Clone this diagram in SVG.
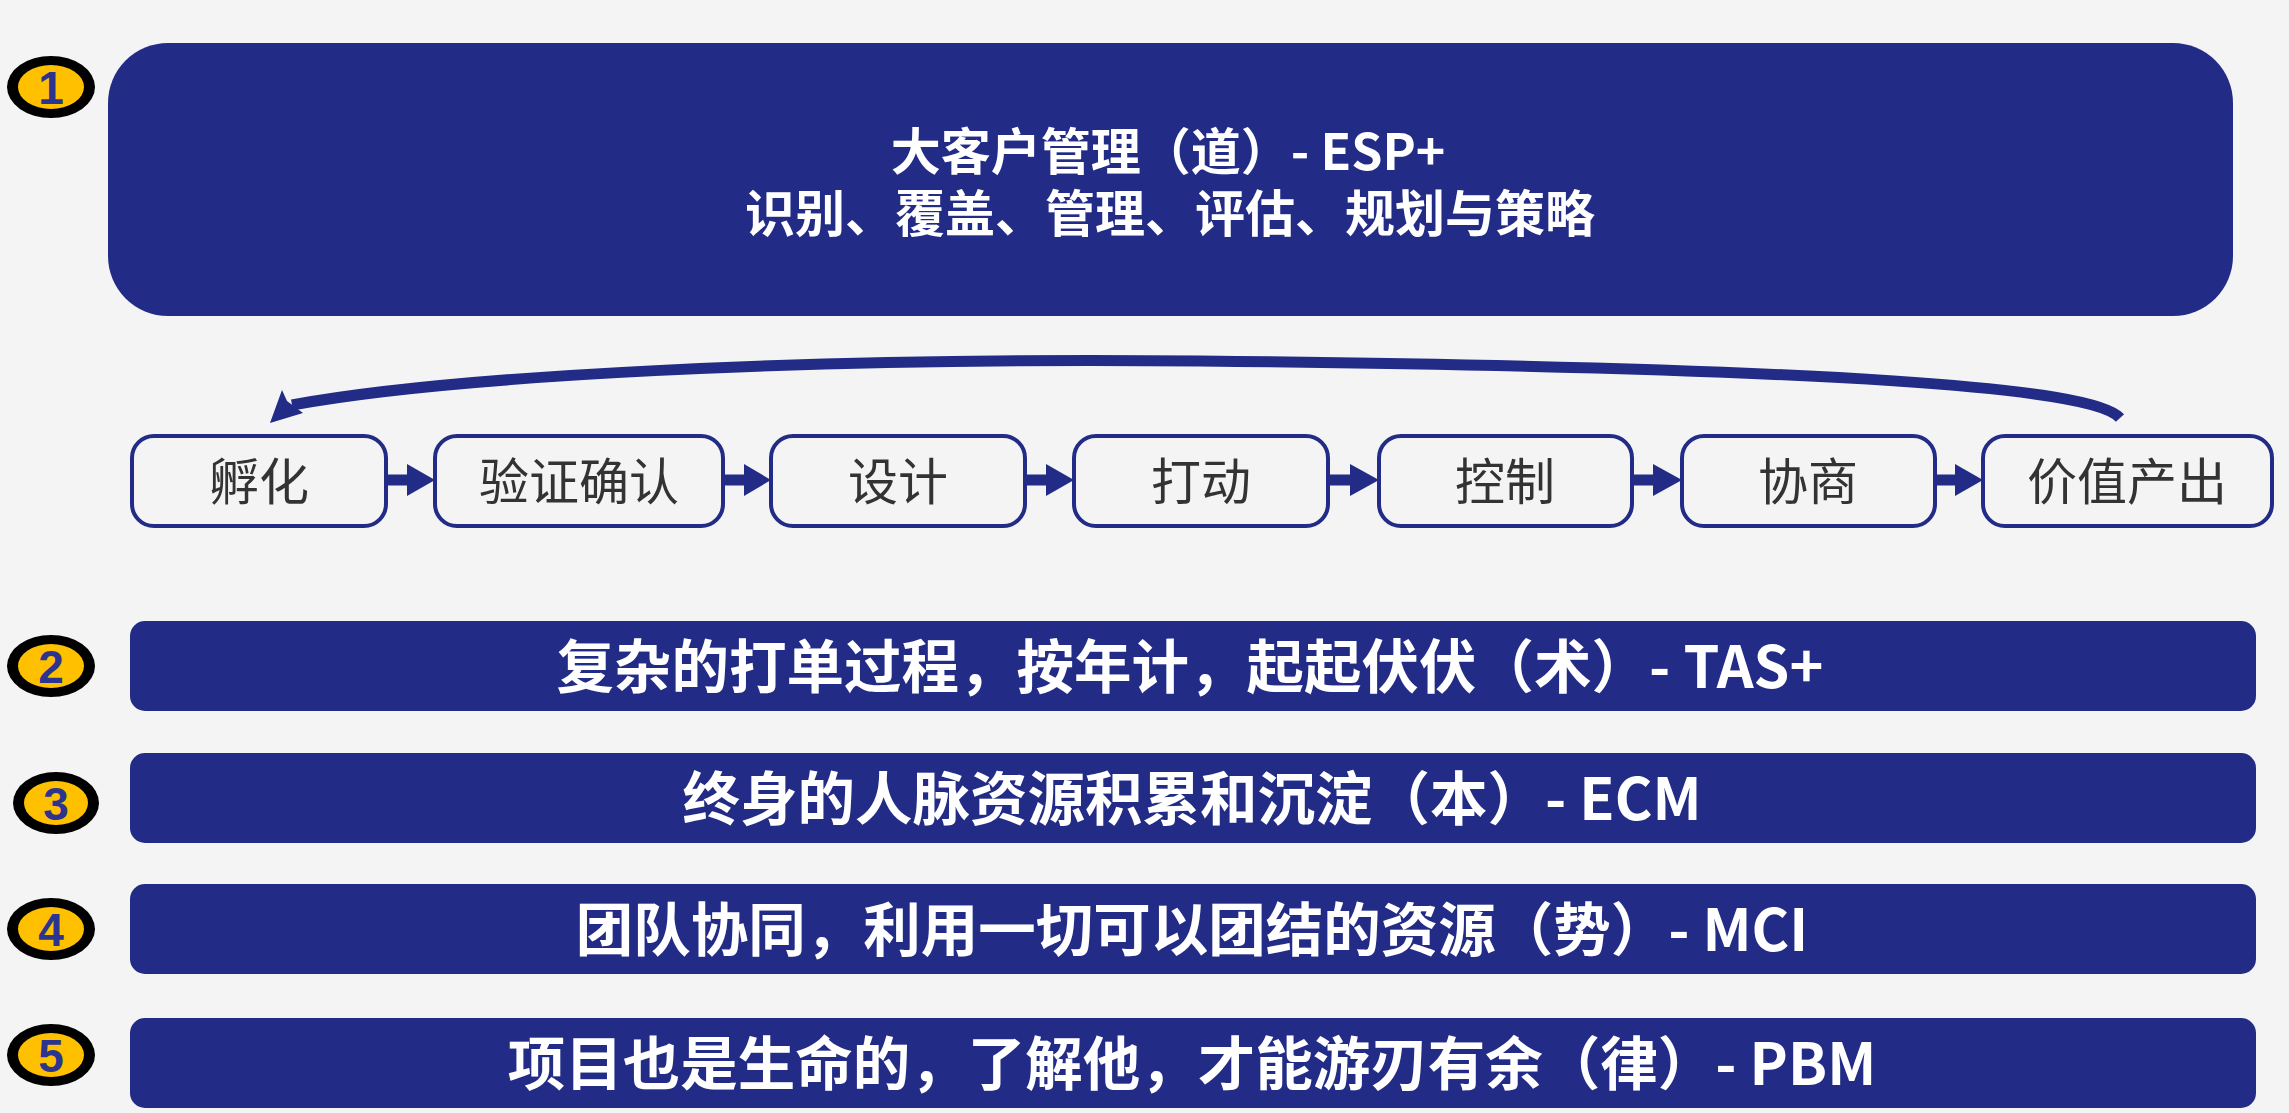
<svg xmlns="http://www.w3.org/2000/svg" width="2289" height="1113" viewBox="0 0 2289 1113">
  <defs>
    <style>
      .bg { fill: #F4F4F4; }
      .panel { fill: #222C86; }
      .step { fill: none; stroke: #222C86; stroke-width: 4; }
      .steptext { font-family: "Noto Sans CJK SC", "Noto Sans", sans-serif; font-size: 50px; fill: #333333; text-anchor: middle; }
      .bold { font-family: "Noto Sans CJK SC", "Noto Sans", sans-serif; font-weight: 700; fill: #FFFFFF; text-anchor: middle; }
      .badge-outer { fill: #000000; }
      .badge-inner { fill: #FFC000; }
      .badge-num { font-family: "Liberation Sans", Arial, sans-serif; font-weight: 700; font-size: 46px; fill: #2B3590; text-anchor: middle; }
      .conn { fill: #222C86; }
      .curve { fill: none; stroke: #222C86; stroke-width: 11; }
    </style>
  </defs>
  <rect class="bg" x="0" y="0" width="2289" height="1113"/>

  <!-- Badges -->
  <g id="badge1">
    <ellipse class="badge-outer" cx="51" cy="87" rx="44" ry="31"/>
    <ellipse class="badge-inner" cx="51" cy="87" rx="33" ry="22"/>
    <text class="badge-num" x="51" y="104">1</text>
  </g>
  <g id="badge2">
    <ellipse class="badge-outer" cx="51" cy="666" rx="44" ry="31"/>
    <ellipse class="badge-inner" cx="51" cy="666" rx="33" ry="22"/>
    <text class="badge-num" x="51" y="683">2</text>
  </g>
  <g id="badge3">
    <ellipse class="badge-outer" cx="56" cy="803" rx="43" ry="31"/>
    <ellipse class="badge-inner" cx="56" cy="803" rx="32" ry="22"/>
    <text class="badge-num" x="56" y="820">3</text>
  </g>
  <g id="badge4">
    <ellipse class="badge-outer" cx="51" cy="929" rx="44" ry="31"/>
    <ellipse class="badge-inner" cx="51" cy="929" rx="33" ry="22"/>
    <text class="badge-num" x="51" y="946">4</text>
  </g>
  <g id="badge5">
    <ellipse class="badge-outer" cx="51" cy="1055" rx="44" ry="31"/>
    <ellipse class="badge-inner" cx="51" cy="1055" rx="33" ry="22"/>
    <text class="badge-num" x="51" y="1072">5</text>
  </g>

  <!-- Top panel -->
  <g id="panel-esp">
    <rect class="panel" x="108" y="43" width="2125" height="273" rx="60" ry="60"/>
    <text class="bold" font-size="50"><tspan x="1168" y="170">大客户管理（道）- ESP+</tspan><tspan x="1170" y="232">识别、覆盖、管理、评估、规划与策略</tspan></text>
  </g>

  <!-- Process steps -->
  <g id="step-fuhua">
    <rect class="step" x="132" y="436" width="254" height="90" rx="22" ry="22"/>
    <text class="steptext" x="259" y="500">孵化</text>
  </g>
  <g id="step-yanzheng">
    <rect class="step" x="435" y="436" width="288" height="90" rx="22" ry="22"/>
    <text class="steptext" x="579" y="500">验证确认</text>
  </g>
  <g id="step-sheji">
    <rect class="step" x="771" y="436" width="254" height="90" rx="22" ry="22"/>
    <text class="steptext" x="898" y="500">设计</text>
  </g>
  <g id="step-dadong">
    <rect class="step" x="1074" y="436" width="254" height="90" rx="22" ry="22"/>
    <text class="steptext" x="1201" y="500">打动</text>
  </g>
  <g id="step-kongzhi">
    <rect class="step" x="1379" y="436" width="253" height="90" rx="22" ry="22"/>
    <text class="steptext" x="1505" y="500">控制</text>
  </g>
  <g id="step-xieshang">
    <rect class="step" x="1682" y="436" width="253" height="90" rx="22" ry="22"/>
    <text class="steptext" x="1808" y="500">协商</text>
  </g>
  <g id="step-jiazhi">
    <rect class="step" x="1983" y="436" width="289" height="90" rx="22" ry="22"/>
    <text class="steptext" x="2127" y="500">价值产出</text>
  </g>

  <!-- Connectors -->
  <g id="connectors">
    <polygon class="conn" points="388,474.5 407,474.5 407,464 435,480 407,496 407,485.5 388,485.5"/>
    <polygon class="conn" points="725,474.5 744,474.5 744,464 771,480 744,496 744,485.5 725,485.5"/>
    <polygon class="conn" points="1027,474.5 1046,474.5 1046,464 1074,480 1046,496 1046,485.5 1027,485.5"/>
    <polygon class="conn" points="1330,474.5 1350,474.5 1350,464 1379,480 1350,496 1350,485.5 1330,485.5"/>
    <polygon class="conn" points="1634,474.5 1653,474.5 1653,464 1682,480 1653,496 1653,485.5 1634,485.5"/>
    <polygon class="conn" points="1937,474.5 1955,474.5 1955,464 1983,480 1955,496 1955,485.5 1937,485.5"/>
    <path class="curve" d="M2120,418 C2093,388 1850,368 1200,361 C800,357 450,376 292,405"/>
    <polygon class="conn" points="270,423 282,390 287,401 303,413"/>
  </g>

  <!-- Bars -->
  <g id="bar-tas">
    <rect class="panel" x="130" y="621" width="2126" height="90" rx="15" ry="15"/>
    <text class="bold" x="1190" y="688" font-size="57.5">复杂的打单过程，按年计，起起伏伏（术）- TAS+</text>
  </g>
  <g id="bar-ecm">
    <rect class="panel" x="130" y="753" width="2126" height="90" rx="15" ry="15"/>
    <text class="bold" x="1192" y="820" font-size="57.5">终身的人脉资源积累和沉淀（本）- ECM</text>
  </g>
  <g id="bar-mci">
    <rect class="panel" x="130" y="884" width="2126" height="90" rx="15" ry="15"/>
    <text class="bold" x="1192" y="951" font-size="57.5">团队协同，利用一切可以团结的资源（势）- MCI</text>
  </g>
  <g id="bar-pbm">
    <rect class="panel" x="130" y="1018" width="2126" height="90" rx="15" ry="15"/>
    <text class="bold" x="1192" y="1085" font-size="57.5">项目也是生命的，了解他，才能游刃有余（律）- PBM</text>
  </g>
</svg>
